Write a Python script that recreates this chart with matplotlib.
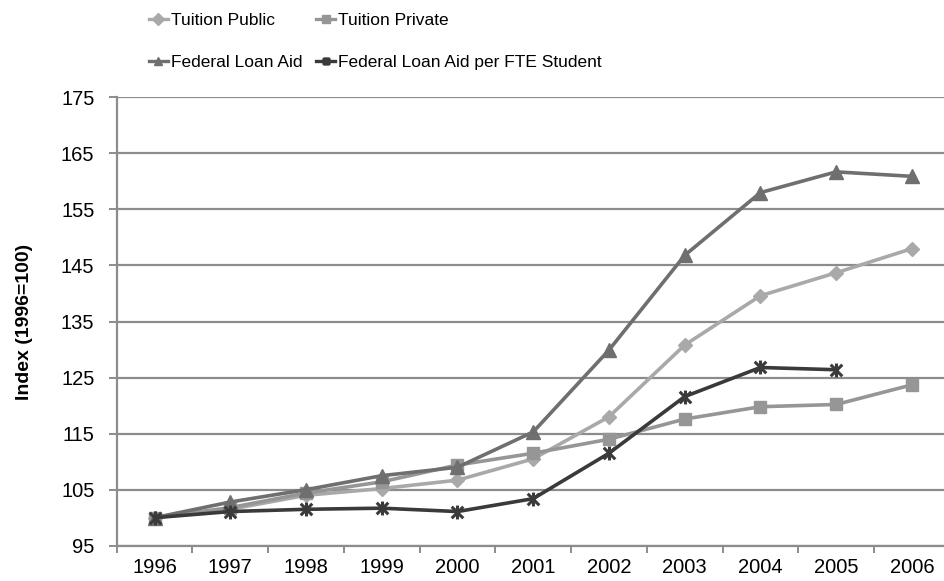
import numpy as np
import matplotlib.pyplot as plt
from matplotlib.path import Path

##========== Data ==========##
years = ['1996', '1997', '1998', '1999', '2000', '2001',
         '2002', '2003', '2004', '2005', '2006']
tuition_public = [100, 101.5, 104.0, 105.2, 106.7, 110.5, 118.0, 130.8, 139.6, 143.7, 148.0]
tuition_private = [100, 101.8, 104.4, 106.4, 109.4, 111.5, 114.0, 117.6, 119.8, 120.2, 123.7]
federal_loan = [100, 102.8, 105.0, 107.5, 109.0, 115.3, 129.9, 146.8, 158.0, 161.7, 160.9]
loan_per_fte = [100, 101.1, 101.5, 101.7, 101.1, 103.4, 111.5, 121.6, 126.8, 126.4]

plt.rcParams['font.family'] = ['Liberation Sans', 'DejaVu Sans']

# Excel-style star: an X with a vertical stroke through it
star = Path([(-1, -1), (1, 1), (-1, 1), (1, -1), (0, -1.2), (0, 1.2)],
            [Path.MOVETO, Path.LINETO, Path.MOVETO, Path.LINETO, Path.MOVETO, Path.LINETO])

##========== Plot ==========##
fig = plt.figure(figsize=(9.45, 5.81), dpi=100)
ax = fig.add_axes([116.7 / 945, 0.0607, 833 / 945, 0.7718])

x = np.arange(len(years))
lw = 2.6
l_pub, = ax.plot(x, tuition_public, color='#a9a9a9', lw=lw, marker='D', ms=7,
                 label='Tuition Public', zorder=3)
l_pri, = ax.plot(x, tuition_private, color='#969696', lw=lw, marker='s', ms=9,
                 label='Tuition Private', zorder=4)
l_fed, = ax.plot(x, federal_loan, color='#6f6f6f', lw=lw, marker='^', ms=10,
                 label='Federal Loan Aid', zorder=5)
l_fte, = ax.plot(x[:len(loan_per_fte)], loan_per_fte, color='#3a3a3a', lw=lw,
                 marker=star, ms=10, mew=2.2, label='Federal Loan Aid per FTE Student',
                 zorder=6)

ax.set_xlim(-0.5, len(years) - 0.5)
ax.set_ylim(95, 175)
ax.set_yticks(np.arange(95, 176, 10))
ax.set_xticks(x)
ax.set_xticklabels(years)
ax.set_xticks(np.arange(-0.5, len(years), 1), minor=True)

ax.grid(axis='y', color='#8c8c8c', lw=1.6, zorder=1)
ax.set_axisbelow(True)
for side in ['top', 'right']:
    ax.spines[side].set_visible(False)
for side in ['left', 'bottom']:
    ax.spines[side].set_color('#8c8c8c')
    ax.spines[side].set_linewidth(1.6)

ax.tick_params(axis='x', which='major', length=0, labelsize=14.5, pad=9)
ax.tick_params(axis='x', which='minor', length=5, width=1.4, color='#8c8c8c')
ax.tick_params(axis='y', length=6, width=1.4, color='#8c8c8c', labelsize=14.5, pad=10)

ax.set_ylabel('Index (1996=100)', fontsize=14, fontweight='bold', labelpad=20)

# legend fills column by column, so order the handles to read row by row
handles = [l_pub, l_fed, l_pri, l_fte]
leg = fig.legend(handles=handles, labels=[h.get_label() for h in handles],
                 loc='upper left', bbox_to_anchor=(142 / 945, 1.0 - 6 / 581),
                 ncol=2, frameon=False, handlelength=1.1, handletextpad=0.15,
                 columnspacing=0.8, labelspacing=1.55, borderaxespad=0,
                 fontsize=12.5)
for h in leg.legend_handles:
    h.set_markersize(6)
    h.set_linewidth(2.4)

fig.savefig('out.png', dpi=100)
